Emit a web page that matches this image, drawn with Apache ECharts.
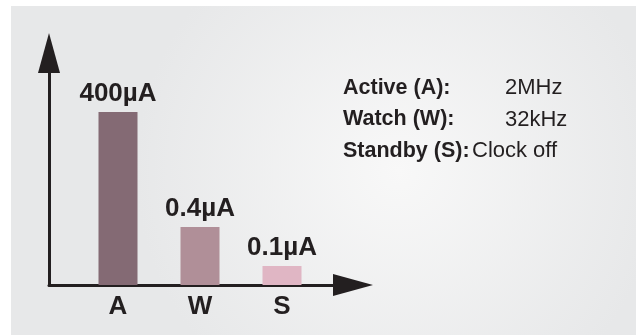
<!DOCTYPE html>
<html>
<head>
<meta charset="utf-8">
<script src="https://cdn.jsdelivr.net/npm/echarts@6/dist/echarts.min.js"></script>
<style>
  html, body { margin: 0; padding: 0; background: #ffffff; }
  #chart { width: 636px; height: 335px; }
</style>
</head>
<body>
<div id="chart"></div>
<script>
// ---- data ----
const categories = ['A', 'W', 'S'];
// schematic bar heights (relative to the tallest bar, as drawn)
const barHeights = [100, 33.5, 11];
const barLabels = ['400µA', '0.4µA', '0.1µA'];
const barColors = ['#846a74', '#b08f98', '#e0b6c4'];
const modeNames = ['Active (A):', 'Watch (W):', 'Standby (S):'];
const modeClocks = ['2MHz', '32kHz', 'Clock off'];

const FONT = '"Liberation Sans", Arial, Helvetica, sans-serif';
const INK = '#231f20';

const chart = echarts.init(document.getElementById('chart'), null, { renderer: 'canvas' });

const graphics = [
  {
    type: 'rect', z: -10, silent: true,
    shape: { x: 11, y: 6, width: 625, height: 329 },
    style: {
      fill: {
        type: 'radial', x: 0.62, y: 0.5, r: 0.8,
        colorStops: [
          { offset: 0, color: '#f8f8f8' },
          { offset: 1, color: '#e7e8e9' }
        ]
      }
    }
  }
];
modeNames.forEach((name, i) => {
  graphics.push({
    type: 'text', left: 343, top: 77 + i * 31.5,
    style: { text: name, font: 'bold 21.5px ' + FONT, fill: INK }
  });
  graphics.push({
    type: 'text', left: i === 2 ? 472 : 505, top: 77 + i * 31.5,
    style: { text: modeClocks[i], font: '22px ' + FONT, fill: INK }
  });
});

const option = {
  backgroundColor: '#ffffff',
  animation: false,
  graphic: graphics,
  grid: [
    { left: 77, width: 246, top: 112, bottom: 50 },
    { left: 49, right: 283, top: 53, bottom: 50 }
  ],
  xAxis: [
    {
      type: 'category', gridIndex: 0, data: categories,
      axisLine: { show: false }, axisTick: { show: false },
      axisLabel: { margin: 9, color: INK, fontFamily: FONT, fontWeight: 'bold', fontSize: 26 }
    },
    {
      type: 'value', gridIndex: 1, min: 0, max: 1,
      axisLine: {
        show: true, onZero: false,
        lineStyle: { color: INK, width: 3 },
        symbol: ['none', 'triangle'], symbolSize: [22, 40]
      },
      axisTick: { show: false }, axisLabel: { show: false }, splitLine: { show: false }
    }
  ],
  yAxis: [
    {
      type: 'value', gridIndex: 0, min: 0, max: 100,
      axisLine: { show: false }, axisTick: { show: false },
      axisLabel: { show: false }, splitLine: { show: false }
    },
    {
      type: 'value', gridIndex: 1, min: 0, max: 1,
      axisLine: {
        show: true, onZero: false,
        lineStyle: { color: INK, width: 3 },
        symbol: ['none', 'triangle'], symbolSize: [22, 40]
      },
      axisTick: { show: false }, axisLabel: { show: false }, splitLine: { show: false }
    }
  ],
  series: [
    {
      type: 'bar', xAxisIndex: 0, yAxisIndex: 0,
      barWidth: 39,
      data: barHeights.map((v, i) => ({ value: v, itemStyle: { color: barColors[i] } })),
      label: {
        show: true, position: 'top', distance: 5,
        formatter: p => barLabels[p.dataIndex],
        color: INK, fontFamily: FONT, fontWeight: 'bold', fontSize: 26
      }
    }
  ]
};
chart.setOption(option);
</script>
</body>
</html>
